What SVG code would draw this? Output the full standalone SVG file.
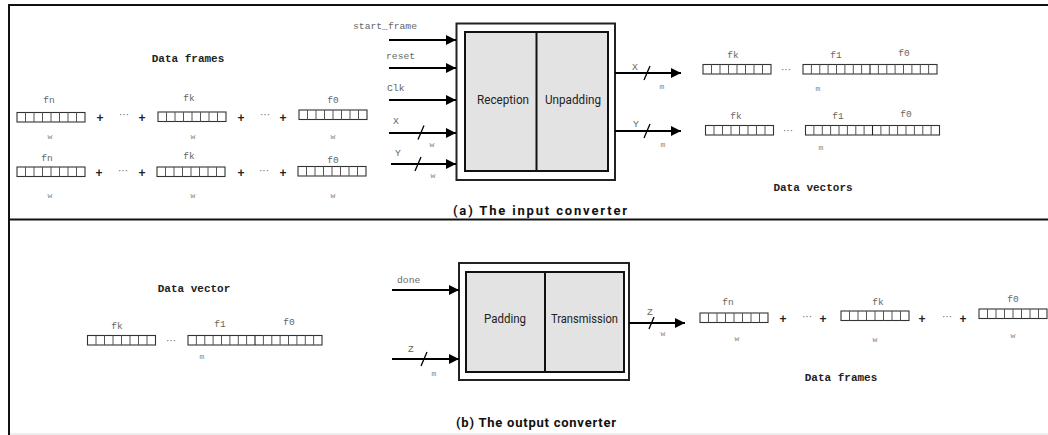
<svg xmlns="http://www.w3.org/2000/svg" xmlns:xlink="http://www.w3.org/1999/xlink" width="1048" height="435" viewBox="0 0 1048 435">
  <style>
    .sig { font-family: "Liberation Mono", monospace; font-size: 9.7px; fill: #666; }
    .idx { font-family: "Liberation Mono", monospace; font-size: 9.5px; fill: #666; text-anchor: middle; }
    .wid { font-family: "Liberation Mono", monospace; font-size: 8px; fill: #888; text-anchor: middle; }
    .ttl { font-family: "Liberation Mono", monospace; font-size: 11px; font-weight: bold; fill: #222; text-anchor: middle; }
    .blk { font-family: Roboto, "Liberation Sans", sans-serif; font-size: 12.5px; fill: #222; text-anchor: middle; }
    .cap { font-family: Roboto, "Liberation Sans", sans-serif; font-size: 13px; font-weight: bold; fill: #111; text-anchor: middle; }
    .op { font-family: "Liberation Sans", sans-serif; font-size: 12px; font-weight: bold; fill: #222; text-anchor: middle; }
    .dots { font-family: "Liberation Sans", sans-serif; font-size: 10px; fill: #666; text-anchor: middle; }
    .wire { stroke: #000; stroke-width: 2; fill: none; }
    .tick { stroke: #000; stroke-width: 1.3; }
    .outer { fill: #fff; stroke: #222; stroke-width: 2; }
    .inner { fill: #e3e3e3; stroke: #111; stroke-width: 2; }
    .cell { fill: #fff; stroke: #333; stroke-width: 1.1; }
    .div { stroke: #555; stroke-width: 1; }
  </style>
  <defs>
    <marker id="head" markerUnits="userSpaceOnUse" markerWidth="11" markerHeight="11" refX="10" refY="5" orient="auto">
      <path d="M0,0 L10,5 L0,10 Z" fill="#000"/>
    </marker>
    <!-- 8-cell data frame -->
    <g id="frame8">
      <rect class="cell" x="0" y="0" width="68" height="9.5"/>
      <path class="div" d="M8.5,0V9.5M17,0V9.5M25.5,0V9.5M34,0V9.5M42.5,0V9.5M51,0V9.5M59.5,0V9.5"/>
    </g>
    <!-- 16-cell data vector (two frames side by side) -->
    <g id="vec16">
      <rect class="cell" x="0" y="0" width="134" height="9.5"/>
      <path class="div" d="M8.4,0V9.5M16.8,0V9.5M25.1,0V9.5M33.5,0V9.5M41.9,0V9.5M50.3,0V9.5M58.6,0V9.5M75.4,0V9.5M83.8,0V9.5M92.1,0V9.5M100.5,0V9.5M108.9,0V9.5M117.3,0V9.5M125.6,0V9.5"/>
      <path d="M67,0V9.5" stroke="#222" stroke-width="1.1"/>
    </g>
  </defs>

  <rect width="1048" height="435" fill="#fff"/>

  <!-- panel borders -->
  <g id="panels">
    <path d="M9,435V5H1048" fill="none" stroke="#111" stroke-width="2"/>
    <path d="M9,219.5H1048" stroke="#111" stroke-width="2"/>
    <path d="M10,434H1048" stroke="#ddd" stroke-width="1"/>
  </g>

  <!-- (a) input data frames -->
  <g id="in-frames">
    <text class="ttl" x="188" y="62">Data frames</text>
    <text class="idx" x="49" y="103">fn</text>
    <use xlink:href="#frame8" x="17" y="112.5"/>
    <text class="wid" x="50" y="139">w</text>
    <text class="op" x="100" y="122">+</text>
    <text class="dots" x="124" y="118">···</text>
    <text class="op" x="142" y="122">+</text>
    <text class="idx" x="189" y="101">fk</text>
    <use xlink:href="#frame8" x="158" y="112"/>
    <text class="wid" x="193" y="139">w</text>
    <text class="op" x="241" y="122">+</text>
    <text class="dots" x="265" y="118">···</text>
    <text class="op" x="283" y="122">+</text>
    <text class="idx" x="333" y="103">f0</text>
    <use xlink:href="#frame8" x="299" y="110"/>
    <text class="wid" x="333" y="139">w</text>

    <text class="idx" x="47" y="161">fn</text>
    <use xlink:href="#frame8" x="17" y="167"/>
    <text class="wid" x="50" y="198">w</text>
    <text class="op" x="99" y="177">+</text>
    <text class="dots" x="123" y="174">···</text>
    <text class="op" x="142" y="177">+</text>
    <text class="idx" x="189" y="159">fk</text>
    <use xlink:href="#frame8" x="157" y="167"/>
    <text class="wid" x="193" y="198">w</text>
    <text class="op" x="241" y="177">+</text>
    <text class="dots" x="264" y="174">···</text>
    <text class="op" x="283" y="177">+</text>
    <text class="idx" x="333" y="163">f0</text>
    <use xlink:href="#frame8" x="298" y="166.5"/>
    <text class="wid" x="333" y="198">w</text>
  </g>

  <!-- (a) input converter block -->
  <g id="input-converter">
    <rect class="outer" x="456.5" y="23.5" width="158.5" height="156.5"/>
    <rect class="inner" x="465" y="32" width="143" height="139"/>
    <line x1="536.5" y1="32" x2="536.5" y2="171" stroke="#111" stroke-width="2"/>
    <text class="blk" x="503" y="104" textLength="52" lengthAdjust="spacingAndGlyphs">Reception</text>
    <text class="blk" x="573" y="104" textLength="56" lengthAdjust="spacingAndGlyphs">Unpadding</text>
  </g>

  <!-- (a) output data vectors -->
  <g id="out-vectors">
    <text class="idx" x="733" y="58">fk</text>
    <text class="idx" x="836" y="58">f1</text>
    <text class="idx" x="904" y="56">f0</text>
    <use xlink:href="#frame8" x="703" y="64.5"/>
    <text class="dots" x="786" y="73">···</text>
    <use xlink:href="#vec16" x="803" y="64.5"/>
    <text class="wid" x="818" y="91">m</text>

    <text class="idx" x="736" y="119">fk</text>
    <text class="idx" x="838" y="119">f1</text>
    <text class="idx" x="906" y="117">f0</text>
    <use xlink:href="#frame8" x="705.5" y="125.5"/>
    <text class="dots" x="788" y="134">···</text>
    <use xlink:href="#vec16" x="805.5" y="125.5"/>
    <text class="wid" x="821" y="150">m</text>

    <text class="ttl" x="813" y="191">Data vectors</text>
  </g>

  <text class="cap" x="540" y="214.5" textLength="174" lengthAdjust="spacing">(a) The input converter</text>

  <!-- (b) input data vector -->
  <g id="in-vector">
    <text class="ttl" x="194" y="292">Data vector</text>
    <text class="idx" x="117" y="329">fk</text>
    <text class="idx" x="220" y="327">f1</text>
    <text class="idx" x="289" y="325">f0</text>
    <use xlink:href="#frame8" x="87.5" y="335.5"/>
    <text class="dots" x="171" y="344">···</text>
    <use xlink:href="#vec16" x="188" y="335.5"/>
    <text class="wid" x="202" y="359">m</text>
  </g>

  <!-- (b) output converter block -->
  <g id="output-converter">
    <rect class="outer" x="459" y="263" width="170" height="117"/>
    <rect class="inner" x="466" y="272" width="158" height="100"/>
    <line x1="545" y1="272" x2="545" y2="372" stroke="#111" stroke-width="2"/>
    <text class="blk" x="505" y="323" textLength="42" lengthAdjust="spacingAndGlyphs">Padding</text>
    <text class="blk" x="584.5" y="323" textLength="67" lengthAdjust="spacingAndGlyphs">Transmission</text>
  </g>

  <!-- (b) output data frames -->
  <g id="out-frames">
    <text class="idx" x="728" y="305">fn</text>
    <use xlink:href="#frame8" x="700" y="313"/>
    <text class="wid" x="737" y="341">w</text>
    <text class="op" x="783" y="323">+</text>
    <text class="dots" x="807" y="320">···</text>
    <text class="op" x="823" y="323">+</text>
    <text class="idx" x="878" y="305">fk</text>
    <use xlink:href="#frame8" x="841" y="311"/>
    <text class="wid" x="875" y="342">w</text>
    <text class="op" x="922" y="323">+</text>
    <text class="dots" x="947" y="320">···</text>
    <text class="op" x="963" y="323">+</text>
    <text class="idx" x="1013" y="302">f0</text>
    <use xlink:href="#frame8" x="979" y="309"/>
    <text class="wid" x="1013" y="338">w</text>
    <text class="ttl" x="841" y="381">Data frames</text>
  </g>

  <text class="cap" x="536" y="426.5" textLength="160" lengthAdjust="spacing">(b) The output converter</text>

  <!-- connectors: signals, buses and bus widths -->
  <g id="connectors">
    <line class="wire" x1="389" y1="40" x2="456" y2="40" marker-end="url(#head)"/>
    <line class="wire" x1="389" y1="68" x2="456" y2="68" marker-end="url(#head)"/>
    <line class="wire" x1="389" y1="100" x2="456" y2="100" marker-end="url(#head)"/>
    <line class="wire" x1="389" y1="133" x2="456" y2="133" marker-end="url(#head)"/>
    <line class="tick" x1="418" y1="139.5" x2="424" y2="125.5"/>
    <line class="wire" x1="391" y1="164" x2="456" y2="164" marker-end="url(#head)"/>
    <line class="tick" x1="415" y1="171" x2="421" y2="157"/>
    <line class="wire" x1="615" y1="73" x2="681" y2="73" marker-end="url(#head)"/>
    <line class="tick" x1="644" y1="80" x2="650" y2="66"/>
    <line class="wire" x1="615" y1="131" x2="681" y2="131" marker-end="url(#head)"/>
    <line class="tick" x1="644" y1="138" x2="650" y2="124"/>
    <line class="wire" x1="392" y1="290" x2="459" y2="290" marker-end="url(#head)"/>
    <line class="wire" x1="392" y1="359" x2="459" y2="359" marker-end="url(#head)"/>
    <line class="tick" x1="421" y1="366" x2="427" y2="352"/>
    <line class="wire" x1="629" y1="323" x2="685" y2="323" marker-end="url(#head)"/>
    <line class="tick" x1="649" y1="329" x2="654" y2="317"/>
  </g>

  <!-- signal names and bus widths -->
  <g id="signal-labels">
    <text class="sig" x="353" y="29">start_frame</text>
    <text class="sig" x="386" y="59">reset</text>
    <text class="sig" x="387" y="91">Clk</text>
    <text class="sig" x="393" y="124">X</text>
    <text class="wid" x="432" y="147">w</text>
    <text class="sig" x="395" y="156">Y</text>
    <text class="wid" x="433" y="178">w</text>
    <text class="sig" x="632" y="70">X</text>
    <text class="wid" x="662" y="89">m</text>
    <text class="sig" x="633" y="127">Y</text>
    <text class="wid" x="663" y="147">m</text>
    <text class="sig" x="397" y="283">done</text>
    <text class="sig" x="408" y="352">Z</text>
    <text class="wid" x="434" y="376">m</text>
    <text class="sig" x="647" y="315">Z</text>
    <text class="wid" x="663" y="336">w</text>
  </g>
</svg>
